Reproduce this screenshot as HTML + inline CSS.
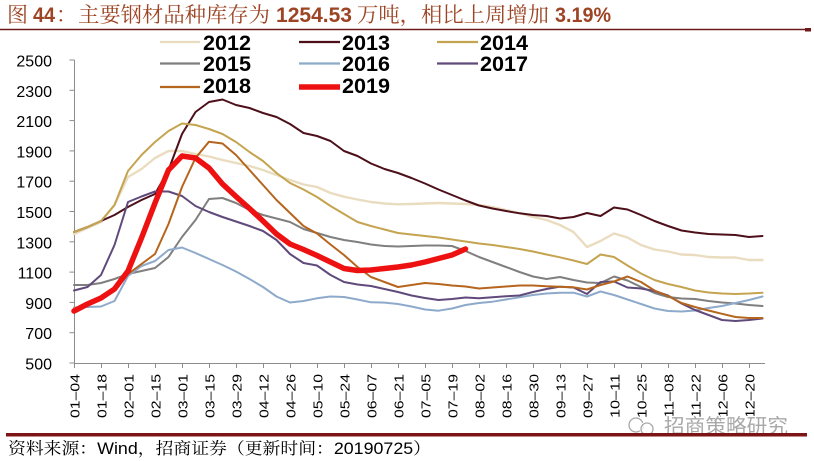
<!DOCTYPE html>
<html><head><meta charset="utf-8"><style>
html,body{margin:0;padding:0;background:#fff;}
svg{display:block;}
</style></head><body>
<svg width="814" height="461" viewBox="0 0 814 461" xmlns="http://www.w3.org/2000/svg">
<rect width="814" height="461" fill="#fff"/>
<!-- Title -->
<g fill="#9c4424" font-size="21">
<text x="7" y="22" font-family="'Noto Serif CJK SC','Liberation Serif',serif">图</text>
<text x="33" y="22" font-family="'Liberation Sans',sans-serif" font-weight="bold" textLength="22" lengthAdjust="spacingAndGlyphs">44</text>
<text x="56" y="22" font-family="'Noto Serif CJK SC',serif">：</text>
<text x="78" y="22" font-family="'Noto Serif CJK SC',serif" textLength="192" lengthAdjust="spacingAndGlyphs">主要钢材品种库存为</text>
<text x="276" y="22" font-family="'Liberation Sans',sans-serif" font-weight="bold" textLength="76" lengthAdjust="spacingAndGlyphs">1254.53</text>
<text x="357" y="22" font-family="'Noto Serif CJK SC',serif" textLength="192" lengthAdjust="spacingAndGlyphs">万吨，相比上周增加</text>
<text x="555" y="22" font-family="'Liberation Sans',sans-serif" font-weight="bold" textLength="56" lengthAdjust="spacingAndGlyphs">3.19%</text>
</g>
<line x1="0" y1="29.5" x2="806" y2="29.5" stroke="#6e1a1a" stroke-width="1.5"/>
<rect x="805" y="28" width="6" height="3.5" fill="#6e1a1a"/>

<!-- Legend -->
<g stroke-width="2.2" fill="none">
<line x1="160" y1="42" x2="200" y2="42" stroke="#eadcbf"/>
<line x1="299" y1="42" x2="340" y2="42" stroke="#4d0f1a"/>
<line x1="437" y1="42" x2="478" y2="42" stroke="#c4a450"/>
<line x1="160" y1="63.5" x2="200" y2="63.5" stroke="#7f7f7f"/>
<line x1="299" y1="63.5" x2="340" y2="63.5" stroke="#8eaacb"/>
<line x1="437" y1="63.5" x2="478" y2="63.5" stroke="#604a7b"/>
<line x1="160" y1="87" x2="200" y2="87" stroke="#b5651d"/>
<line x1="299" y1="87" x2="340" y2="87" stroke="#ee1111" stroke-width="5.5"/>
</g>
<g font-family="'Liberation Sans',sans-serif" font-weight="bold" font-size="21.5" fill="#000">
<text x="203" y="50" textLength="48" lengthAdjust="spacingAndGlyphs">2012</text>
<text x="342" y="50" textLength="48" lengthAdjust="spacingAndGlyphs">2013</text>
<text x="480" y="50" textLength="48" lengthAdjust="spacingAndGlyphs">2014</text>
<text x="203" y="71" textLength="48" lengthAdjust="spacingAndGlyphs">2015</text>
<text x="342" y="71" textLength="48" lengthAdjust="spacingAndGlyphs">2016</text>
<text x="480" y="71" textLength="48" lengthAdjust="spacingAndGlyphs">2017</text>
<text x="203" y="93" textLength="48" lengthAdjust="spacingAndGlyphs">2018</text>
<text x="342" y="93" textLength="48" lengthAdjust="spacingAndGlyphs">2019</text>
</g>

<!-- Axes -->
<g stroke="#8c8c8c" stroke-width="1">
<line x1="74.5" y1="60" x2="74.5" y2="363.5"/>
<line x1="74" y1="363.5" x2="765" y2="363.5"/>
<line x1="69.5" y1="60" x2="74.5" y2="60"/>
<line x1="69.5" y1="90.3" x2="74.5" y2="90.3"/>
<line x1="69.5" y1="120.6" x2="74.5" y2="120.6"/>
<line x1="69.5" y1="150.9" x2="74.5" y2="150.9"/>
<line x1="69.5" y1="181.2" x2="74.5" y2="181.2"/>
<line x1="69.5" y1="211.5" x2="74.5" y2="211.5"/>
<line x1="69.5" y1="241.8" x2="74.5" y2="241.8"/>
<line x1="69.5" y1="272.1" x2="74.5" y2="272.1"/>
<line x1="69.5" y1="302.4" x2="74.5" y2="302.4"/>
<line x1="69.5" y1="332.7" x2="74.5" y2="332.7"/>
<line x1="69.5" y1="363" x2="74.5" y2="363"/>
</g>
<g stroke="#8c8c8c" stroke-width="1">
<path d="M74.5 363v5M101.5 363v5M128.5 363v5M155.5 363v5M182.5 363v5M209.5 363v5M236.5 363v5M263.5 363v5M290.5 363v5M317.5 363v5M344.5 363v5M371.5 363v5M398.5 363v5M425.5 363v5M452.5 363v5M479.5 363v5M506.5 363v5M533.5 363v5M560.5 363v5M587.5 363v5M614.5 363v5M641.5 363v5M668.5 363v5M695.5 363v5M722.5 363v5M749.5 363v5"/>
</g>
<g font-family="'Liberation Sans',sans-serif" font-size="16" fill="#000" text-anchor="end">
<text x="52" y="66.5">2500</text>
<text x="52" y="96.8">2300</text>
<text x="52" y="127.1">2100</text>
<text x="52" y="157.4">1900</text>
<text x="52" y="187.7">1700</text>
<text x="52" y="218">1500</text>
<text x="52" y="248.3">1300</text>
<text x="52" y="278.6">1100</text>
<text x="52" y="308.9">900</text>
<text x="52" y="339.2">700</text>
<text x="52" y="369.5">500</text>
</g>
<g font-family="'Liberation Sans',sans-serif" font-size="12.5" fill="#000" text-anchor="end">
<text transform="translate(79.5,374) rotate(-90)" textLength="44" lengthAdjust="spacingAndGlyphs">01–04</text>
<text transform="translate(106.5,374) rotate(-90)" textLength="44" lengthAdjust="spacingAndGlyphs">01–18</text>
<text transform="translate(133.5,374) rotate(-90)" textLength="44" lengthAdjust="spacingAndGlyphs">02–01</text>
<text transform="translate(160.5,374) rotate(-90)" textLength="44" lengthAdjust="spacingAndGlyphs">02–15</text>
<text transform="translate(187.5,374) rotate(-90)" textLength="44" lengthAdjust="spacingAndGlyphs">03–01</text>
<text transform="translate(214.5,374) rotate(-90)" textLength="44" lengthAdjust="spacingAndGlyphs">03–15</text>
<text transform="translate(241.5,374) rotate(-90)" textLength="44" lengthAdjust="spacingAndGlyphs">03–29</text>
<text transform="translate(268.5,374) rotate(-90)" textLength="44" lengthAdjust="spacingAndGlyphs">04–12</text>
<text transform="translate(295.5,374) rotate(-90)" textLength="44" lengthAdjust="spacingAndGlyphs">04–26</text>
<text transform="translate(322.5,374) rotate(-90)" textLength="44" lengthAdjust="spacingAndGlyphs">05–10</text>
<text transform="translate(349.5,374) rotate(-90)" textLength="44" lengthAdjust="spacingAndGlyphs">05–24</text>
<text transform="translate(376.5,374) rotate(-90)" textLength="44" lengthAdjust="spacingAndGlyphs">06–07</text>
<text transform="translate(403.5,374) rotate(-90)" textLength="44" lengthAdjust="spacingAndGlyphs">06–21</text>
<text transform="translate(430.5,374) rotate(-90)" textLength="44" lengthAdjust="spacingAndGlyphs">07–05</text>
<text transform="translate(457.5,374) rotate(-90)" textLength="44" lengthAdjust="spacingAndGlyphs">07–19</text>
<text transform="translate(484.5,374) rotate(-90)" textLength="44" lengthAdjust="spacingAndGlyphs">08–02</text>
<text transform="translate(511.5,374) rotate(-90)" textLength="44" lengthAdjust="spacingAndGlyphs">08–16</text>
<text transform="translate(538.5,374) rotate(-90)" textLength="44" lengthAdjust="spacingAndGlyphs">08–30</text>
<text transform="translate(565.5,374) rotate(-90)" textLength="44" lengthAdjust="spacingAndGlyphs">09–13</text>
<text transform="translate(592.5,374) rotate(-90)" textLength="44" lengthAdjust="spacingAndGlyphs">09–27</text>
<text transform="translate(619.5,374) rotate(-90)" textLength="44" lengthAdjust="spacingAndGlyphs">10–11</text>
<text transform="translate(646.5,374) rotate(-90)" textLength="44" lengthAdjust="spacingAndGlyphs">10–25</text>
<text transform="translate(673.5,374) rotate(-90)" textLength="44" lengthAdjust="spacingAndGlyphs">11–08</text>
<text transform="translate(700.5,374) rotate(-90)" textLength="44" lengthAdjust="spacingAndGlyphs">11–22</text>
<text transform="translate(727.5,374) rotate(-90)" textLength="44" lengthAdjust="spacingAndGlyphs">12–06</text>
<text transform="translate(754.5,374) rotate(-90)" textLength="44" lengthAdjust="spacingAndGlyphs">12–20</text>
</g>

<!-- Series -->
<g fill="none" stroke-width="2" stroke-linejoin="round" stroke-linecap="round">
<polyline stroke="#eadcbf" stroke-width="2.4" points="74,234 87.5,228 101,222 114.5,205 128,177 141.5,169 155,158 168.5,151 182,151 195.5,154 209,156.5 222.5,160 236,163 249.5,166 263,170 276.5,175 290,180 303.5,184.5 317,187 330.5,193 344,196.7 357.5,199.5 371,202 384.5,203.5 398,204.3 411.5,204 425,203.5 438.5,203 452,203.5 465.5,204 479,205 492.5,207 506,210 519.5,213 533,217 546.5,220 560,225 573.5,232 587,247 600.5,241 614,233.5 627.5,237.5 641,245 654.5,249.5 668,251.5 681.5,254.5 695,255 708.5,257 722,257.5 735.5,257.5 749,260 762.5,260"/>
<polyline stroke="#4d0f1a" points="74,232 87.5,227 101,221 114.5,215 128,207 141.5,200 155,194 168.5,170 182,134 195.5,112 209,102 222.5,99.5 236,105 249.5,108 263,113 276.5,117 290,124 303.5,133 317,136 330.5,141 344,151 357.5,156 371,163.5 384.5,169 398,173 411.5,178 425,183.5 438.5,189.5 452,195 465.5,200.5 479,205.5 492.5,208.5 506,211 519.5,213.3 533,215 546.5,216 560,218.5 573.5,217 587,213 600.5,216 614,207.5 627.5,209.5 641,215 654.5,221 668,226 681.5,230.5 695,232.5 708.5,234 722,234.5 735.5,235 749,237 762.5,236"/>
<polyline stroke="#c4a450" points="74,232 87.5,227 101,221 114.5,205 128,171 141.5,155 155,142 168.5,131 182,123.5 195.5,125 209,129 222.5,134 236,142 249.5,152 263,161 276.5,173 290,183 303.5,189.5 317,197 330.5,206 344,214 357.5,222 371,226 384.5,229.5 398,233 411.5,234.5 425,236 438.5,237.5 452,239.5 465.5,241.5 479,243.5 492.5,245 506,247 519.5,249 533,251.5 546.5,254.5 560,257.3 573.5,260.5 587,264 600.5,254.5 614,257 627.5,265.5 641,273.5 654.5,280 668,284 681.5,287 695,290.5 708.5,292.5 722,293.5 735.5,294 749,293.5 762.5,292.7"/>
<polyline stroke="#7f7f7f" points="74,285 87.5,285 101,283 114.5,279 128,274 141.5,271 155,268 168.5,257 182,237 195.5,220 209,199 222.5,198 236,203 249.5,210 263,215 276.5,218.5 290,222 303.5,229 317,233 330.5,237 344,240 357.5,242 371,244.5 384.5,246 398,246.5 411.5,246 425,245.5 438.5,245.5 452,246 465.5,251 479,257 492.5,262 506,267 519.5,272 533,276.5 546.5,279 560,277 573.5,280 587,282.5 600.5,283 614,276.5 627.5,280.5 641,287 654.5,293 668,297 681.5,298.5 695,299 708.5,301 722,302.5 735.5,303.5 749,305 762.5,306"/>
<polyline stroke="#8eaacb" points="74,307.5 87.5,307 101,306.5 114.5,301 128,276 141.5,266 155,261 168.5,250 182,247.5 195.5,253 209,259 222.5,265 236,271.5 249.5,279 263,287 276.5,296.5 290,302.5 303.5,301 317,298.3 330.5,296.5 344,297 357.5,299.5 371,302.3 384.5,302.6 398,304 411.5,306.5 425,309.5 438.5,310.7 452,308.5 465.5,305 479,303 492.5,301.7 506,299.5 519.5,297.3 533,295 546.5,293.5 560,292.7 573.5,292.7 587,296.5 600.5,291.5 614,295 627.5,299.5 641,304 654.5,308.5 668,311 681.5,311.5 695,310.5 708.5,308 722,306 735.5,303 749,300 762.5,296.5"/>
<polyline stroke="#604a7b" points="74,290.5 87.5,287 101,275 114.5,245 128,202 141.5,196.5 155,191.5 168.5,191.5 182,196 195.5,206 209,212 222.5,217 236,221.5 249.5,226 263,231 276.5,240 290,254 303.5,263 317,265.5 330.5,275 344,282 357.5,284.5 371,286 384.5,289 398,292 411.5,295.5 425,298 438.5,300 452,299 465.5,297.5 479,298.3 492.5,297.3 506,296.3 519.5,295.5 533,292 546.5,289 560,286.7 573.5,287.5 587,294 600.5,282 614,281.5 627.5,287.5 641,288.5 654.5,291 668,295.5 681.5,303.5 695,310 708.5,315 722,320 735.5,321 749,320 762.5,318.5"/>
<polyline stroke="#b5651d" points="74,311 87.5,304 101,298 114.5,289 128,274 141.5,264 155,254 168.5,224 182,187 195.5,158 209,141.7 222.5,143.5 236,155 249.5,170 263,185 276.5,200 290,213 303.5,226 317,233.5 330.5,244.5 344,255 357.5,267 371,277 384.5,282 398,287 411.5,285 425,283 438.5,284 452,285.5 465.5,286.5 479,288.5 492.5,287.5 506,286.5 519.5,285.5 533,285.5 546.5,286.3 560,286.7 573.5,287.3 587,289.5 600.5,285 614,281.5 627.5,276.5 641,282 654.5,290.5 668,296 681.5,303 695,307 708.5,310.5 722,313.8 735.5,317 749,318 762.5,318"/>
<polyline stroke="#ee1111" stroke-width="5.5" points="74,311 87.5,304 101,298 114.5,289 128,271 141.5,238 155,203 168.5,170 182,156 195.5,158 209,168 222.5,184 236,196.5 249.5,208.5 263,221 276.5,234 290,244 303.5,249.5 317,255.5 330.5,262 344,268.5 357.5,270.5 371,270 384.5,268.5 398,267 411.5,265 425,262 438.5,258.5 452,255 465.5,249"/>
</g>

<!-- Watermark -->
<g>
<circle cx="636" cy="425" r="7" fill="none" stroke="#fff" stroke-width="3"/>
<circle cx="636" cy="425" r="7" fill="none" stroke="#a8a8a8" stroke-width="1.3"/>
<circle cx="647" cy="429" r="6" fill="none" stroke="#fff" stroke-width="3"/>
<circle cx="647" cy="429" r="6" fill="none" stroke="#a8a8a8" stroke-width="1.3"/>
<text x="664" y="433" font-family="'Noto Sans CJK SC',sans-serif" font-size="20" fill="#a8a8a8" stroke="#fff" stroke-width="2.5" paint-order="stroke" textLength="124" lengthAdjust="spacingAndGlyphs">招商策略研究</text>
</g>

<!-- Footer -->
<rect x="6" y="433" width="801" height="3.5" fill="#7d1416"/>
<text x="8" y="454" font-family="'Liberation Sans','Noto Serif CJK SC',serif" font-size="16.5" fill="#000" textLength="423" lengthAdjust="spacingAndGlyphs">资料来源：Wind，招商证券（更新时间：20190725）</text>
</svg>
</body></html>
